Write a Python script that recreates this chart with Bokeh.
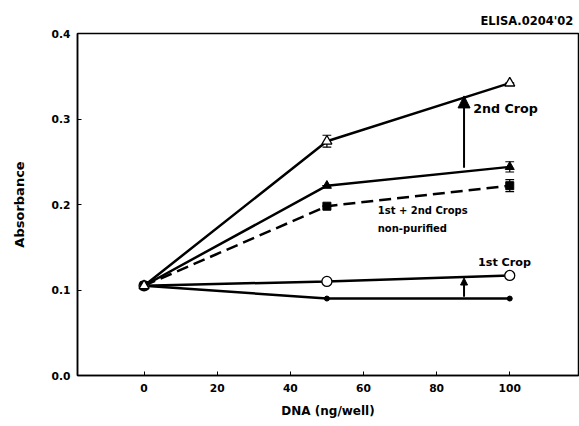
from bokeh.plotting import figure
from bokeh.models import Range1d, FixedTicker, PrintfTickFormatter, Label, Arrow, NormalHead, Title
from bokeh.embed import file_html
from bokeh.resources import INLINE

dna = [0, 50, 100]
crop2 = [0.105, 0.274, 0.342]
crop2_err = [0.0, 0.007, 0.0]
mixed = [0.105, 0.222, 0.244]
mixed_err = [0.0, 0.0, 0.006]
nonpur = [0.105, 0.198, 0.222]
nonpur_err = [0.0, 0.0, 0.007]
crop1 = [0.105, 0.110, 0.117]
crop1_err = [0.0, 0.0, 0.003]
base = [0.105, 0.090, 0.090]

x_ticks = [0, 20, 40, 60, 80, 100]
y_ticks = [0.0, 0.1, 0.2, 0.3, 0.4]

arrow_x = [87.5, 87.5]
arrow_y0 = [0.243, 0.092]
arrow_y1 = [0.327, 0.114]

FONT = "DejaVu Sans"

p = figure(width=579, height=426, output_backend="svg", toolbar_location=None,
           x_range=Range1d(-18.2, 118.8), y_range=Range1d(0, 0.4),
           min_border_left=77, min_border_right=1, min_border_top=33, min_border_bottom=51)
p.background_fill_color = "white"
p.border_fill_color = "white"
p.outline_line_color = "black"
p.outline_line_width = 1.5
p.grid.visible = False

for ax in (p.xaxis[0], p.yaxis[0]):
    ax.major_tick_in = 4
    ax.major_tick_out = 0
    ax.minor_tick_line_color = None
    ax.axis_line_width = 1.5
    ax.major_label_text_font = FONT
    ax.major_label_text_font_style = "bold"
    ax.major_label_text_font_size = "10.7px"
    ax.major_label_text_color = "black"
    ax.axis_label_text_font = FONT
    ax.axis_label_text_font_style = "bold"
    ax.axis_label_text_color = "black"

p.xaxis.ticker = FixedTicker(ticks=x_ticks)
p.yaxis.ticker = FixedTicker(ticks=y_ticks)
p.yaxis.formatter = PrintfTickFormatter(format="%.1f")
p.xaxis.axis_label = "DNA (ng/well)"
p.yaxis.axis_label = "Absorbance"
p.xaxis.axis_label_text_font_size = "12px"
p.yaxis.axis_label_text_font_size = "13px"
p.xaxis.major_label_standoff = 8
p.yaxis.major_label_standoff = 7
p.xaxis.axis_label_standoff = 9
p.yaxis.axis_label_standoff = 22

# error bars
for ys, es in ((crop2, crop2_err), (mixed, mixed_err), (nonpur, nonpur_err), (crop1, crop1_err)):
    lo = [y - e for y, e in zip(ys, es)]
    hi = [y + e for y, e in zip(ys, es)]
    p.segment(x0=dna, y0=lo, x1=dna, y1=hi, line_color="black", line_width=1.2)
    p.segment(x0=[x - 1.2 for x in dna], y0=hi, x1=[x + 1.2 for x in dna], y1=hi, line_color="black", line_width=1.2)
    p.segment(x0=[x - 1.2 for x in dna], y0=lo, x1=[x + 1.2 for x in dna], y1=lo, line_color="black", line_width=1.2)

p.line(dna, base, line_color="black", line_width=2.5)
p.scatter(dna, base, marker="circle", size=5, fill_color="black", line_color="black")

p.line(dna, crop1, line_color="black", line_width=2.5)
p.scatter(dna, crop1, marker="circle", size=10, fill_color="white", line_color="black", line_width=1.3)

p.line(dna, nonpur, line_color="black", line_width=2.5, line_dash="12 6")
p.scatter(dna, nonpur, marker="square", size=8, fill_color="black", line_color="black")

p.line(dna, mixed, line_color="black", line_width=2.5)
p.scatter(dna, mixed, marker="triangle", size=9, fill_color="black", line_color="black")

p.line(dna, crop2, line_color="black", line_width=2.5)
p.scatter(dna, crop2, marker="triangle", size=10, fill_color="white", line_color="black", line_width=1.3)

for x, y0, y1, s in zip(arrow_x, arrow_y0, arrow_y1, (12, 7)):
    p.add_layout(Arrow(x_start=x, y_start=y0, x_end=x, y_end=y1, line_width=2,
                       end=NormalHead(size=s, fill_color="black", line_color="black")))

labels = [("2nd Crop", 90.0, 0.312, "12.7px"),
          ("1st + 2nd Crops", 63.9, 0.193, "10px"),
          ("non-purified", 63.9, 0.172, "10px"),
          ("1st Crop", 91.3, 0.132, "11.2px")]
for t, x, y, fs in labels:
    p.add_layout(Label(x=x, y=y, text=t, text_font=FONT, text_font_style="bold",
                       text_color="black", text_font_size=fs,
                       text_baseline="middle", text_align="left"))

p.add_layout(Title(text="ELISA.0204'02", align="left", text_font=FONT, text_font_style="bold",
                   text_font_size="11.5px", text_color="black", offset=403, standoff=11), "above")

open("out.html", "w").write(file_html(p, INLINE))
